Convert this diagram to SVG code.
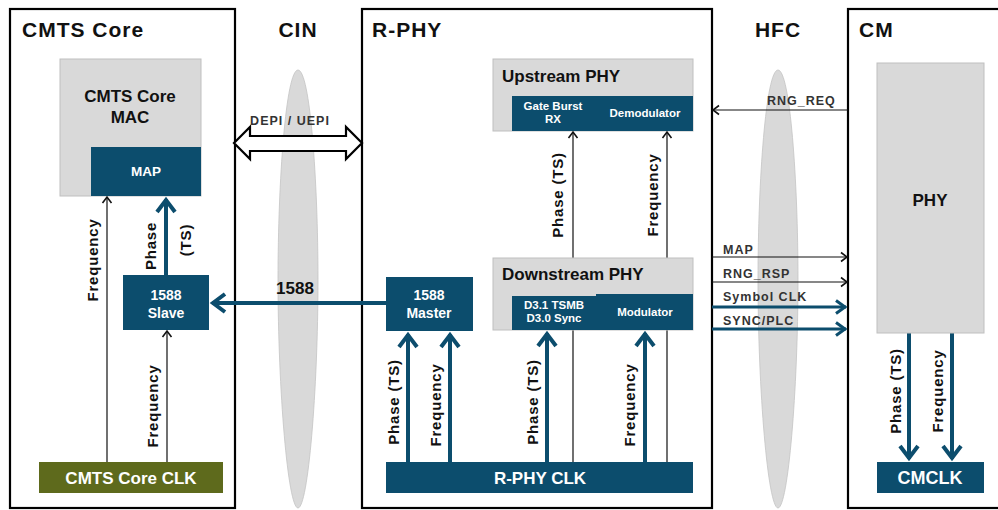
<svg xmlns="http://www.w3.org/2000/svg" width="998" height="510" viewBox="0 0 998 510">
<style>
text{font-family:"Liberation Sans",Arial,sans-serif;}
.frame{fill:#fff;stroke:#000;stroke-width:2.2;}
.hdr{font-size:21px;font-weight:bold;fill:#111;letter-spacing:1px;}
.grey{fill:#d9d9d9;stroke:#bfbfbf;stroke-width:1;}
.teal{fill:#0c4d6d;}
.olive{fill:#5e6a1c;}
.gtitle{font-size:17px;font-weight:bold;fill:#111;}
.wt{fill:#fff;font-weight:bold;text-anchor:middle;}
.vl{font-size:15px;font-weight:bold;fill:#111;text-anchor:middle;dominant-baseline:central;letter-spacing:0.8px;}
.thin{stroke:#111;stroke-width:1.2;fill:none;}
.thick{stroke:#0c4d6d;stroke-width:4;fill:none;}
.mid{stroke:#0c4d6d;stroke-width:3;fill:none;}
.hl{font-size:12.5px;font-weight:bold;fill:#333;letter-spacing:1px;}
.cloud{fill:#d9d9d9;stroke:#c4c4c4;stroke-width:0.8;}
</style>
<defs>
<marker id="ah" markerUnits="userSpaceOnUse" markerWidth="12" markerHeight="12" refX="7" refY="6" orient="auto">
<path d="M1,1.5 L7,6 L1,10.5" fill="none" stroke="#111" stroke-width="1.6"/>
</marker>
<marker id="ahT" markerUnits="userSpaceOnUse" markerWidth="24" markerHeight="24" refX="18" refY="12" orient="auto">
<path d="M5,3 L17,12 L5,21" fill="none" stroke="#0c4d6d" stroke-width="4"/>
</marker>
<marker id="ahM" markerUnits="userSpaceOnUse" markerWidth="20" markerHeight="20" refX="14" refY="10" orient="auto">
<path d="M4,3.5 L13,10 L4,16.5" fill="none" stroke="#0c4d6d" stroke-width="3"/>
</marker>
<path id="spindle" d="M0,0 C12,0 20,110 20,210 C20,320 10,438 0,438 C-10,438 -20,320 -20,210 C-20,110 -12,0 0,0 Z"/>
</defs>

<!-- frames -->
<g id="cmts-core">
<rect class="frame" x="10" y="9" width="225" height="499"/>
<text class="hdr" x="22" y="37">CMTS Core</text>
</g>
<g id="r-phy">
<rect class="frame" x="362" y="9" width="350" height="499"/>
<text class="hdr" x="372" y="37">R-PHY</text>
</g>
<g id="cm">
<rect class="frame" x="848" y="9" width="170" height="499"/>
<text class="hdr" x="859" y="37">CM</text>
</g>

<!-- networks -->
<g id="cin">
<use href="#spindle" class="cloud" x="298" y="70"/>
<text class="hdr" x="298" y="37" text-anchor="middle">CIN</text>
</g>
<g id="hfc">
<use href="#spindle" class="cloud" x="778" y="70"/>
<text class="hdr" x="778" y="37" text-anchor="middle">HFC</text>
</g>

<!-- CMTS Core nodes -->
<g id="cmts-mac">
<rect class="grey" x="60" y="59" width="141" height="137"/>
<text class="gtitle" x="130" y="102" text-anchor="middle">CMTS Core</text>
<text class="gtitle" x="130" y="123" text-anchor="middle">MAC</text>
</g>
<g id="map">
<rect class="teal" x="91" y="147" width="110" height="49"/>
<text class="wt" x="146" y="176" font-size="13.5">MAP</text>
</g>
<g id="slave">
<rect class="teal" x="123" y="275" width="86" height="55"/>
<text class="wt" x="166" y="300" font-size="14">1588</text>
<text class="wt" x="166" y="318" font-size="14">Slave</text>
</g>
<g id="cmts-clk">
<rect class="olive" x="39" y="462" width="184" height="31"/>
<text class="wt" x="131" y="484" font-size="17">CMTS Core CLK</text>
</g>

<!-- R-PHY nodes -->
<g id="upstream-phy">
<rect class="grey" x="493" y="59" width="200" height="72"/>
<text class="gtitle" x="502" y="82">Upstream PHY</text>
<rect class="teal" x="512" y="96" width="181" height="35"/>
<text class="wt" x="553" y="110" font-size="11.5">Gate Burst</text>
<text class="wt" x="553" y="123" font-size="11.5">RX</text>
<text class="wt" x="645" y="117" font-size="11.5">Demodulator</text>
</g>

<g id="connectors">
<!-- CMTS core -->
<line class="thin" x1="107" y1="462" x2="107" y2="197" marker-end="url(#ah)"/>
<line class="thin" x1="167" y1="462" x2="167" y2="331" marker-end="url(#ah)"/>
<line class="thick" x1="166" y1="275" x2="166" y2="199" marker-end="url(#ahT)"/>
<!-- 1588 -->
<line class="thick" x1="387" y1="303" x2="212" y2="303" marker-end="url(#ahT)"/>
<!-- DEPI/UEPI hollow double arrow -->
<path d="M234,143 L250,127 L250,136 L346,136 L346,127 L362,143 L346,159 L346,151 L250,151 L250,159 Z" fill="#fff" stroke="#000" stroke-width="2.2" stroke-linejoin="miter"/>
<!-- R-PHY internal thin -->
<line class="thin" x1="573" y1="462" x2="573" y2="132" marker-end="url(#ah)"/>
<line class="thin" x1="667" y1="462" x2="667" y2="132" marker-end="url(#ah)"/>
<!-- R-PHY thick -->
<line class="thick" x1="408" y1="462" x2="408" y2="334" marker-end="url(#ahT)"/>
<line class="thick" x1="450" y1="462" x2="450" y2="334" marker-end="url(#ahT)"/>
<line class="thick" x1="547" y1="462" x2="547" y2="333" marker-end="url(#ahT)"/>
<line class="thick" x1="645" y1="462" x2="645" y2="333" marker-end="url(#ahT)"/>
<!-- HFC -->
<line class="thin" x1="848" y1="110" x2="713" y2="110" marker-end="url(#ah)"/>
<line class="thin" x1="712" y1="257" x2="847" y2="257" marker-end="url(#ah)"/>
<line class="thin" x1="712" y1="282" x2="847" y2="282" marker-end="url(#ah)"/>
<line class="mid" x1="712" y1="307" x2="846" y2="307" marker-end="url(#ahM)"/>
<line class="mid" x1="712" y1="329" x2="846" y2="329" marker-end="url(#ahM)"/>
<!-- CM -->
<line class="thick" x1="909" y1="333" x2="909" y2="459" marker-end="url(#ahT)"/>
<line class="thick" x1="952" y1="333" x2="952" y2="459" marker-end="url(#ahT)"/>
</g>

<g id="downstream-phy">
<rect class="grey" x="493" y="258" width="200" height="72"/>
<text class="gtitle" x="502" y="280">Downstream PHY</text>
<rect class="teal" x="512" y="296" width="86" height="34"/>
<rect class="teal" x="596" y="294" width="97" height="36"/>
<text class="wt" x="554" y="309" font-size="11.5">D3.1 TSMB</text>
<text class="wt" x="554" y="322" font-size="11.5">D3.0 Sync</text>
<text class="wt" x="645" y="316" font-size="11.5">Modulator</text>
</g>
<g id="master">
<rect class="teal" x="386" y="277" width="87" height="54"/>
<text class="wt" x="429" y="300" font-size="14">1588</text>
<text class="wt" x="429" y="318" font-size="14">Master</text>
</g>
<g id="rphy-clk">
<rect class="teal" x="386" y="462" width="307" height="31"/>
<text class="wt" x="540" y="484" font-size="17">R-PHY CLK</text>
</g>

<!-- CM nodes -->
<g id="cm-phy">
<rect class="grey" x="877" y="63" width="107" height="270"/>
<text class="gtitle" x="930" y="206" text-anchor="middle">PHY</text>
</g>
<g id="cmclk">
<rect class="teal" x="877" y="462" width="107" height="31"/>
<text class="wt" x="930" y="484" font-size="18">CMCLK</text>
</g>

<!-- connector labels -->
<g id="labels">
<text class="hl" x="290" y="125" text-anchor="middle" font-weight="normal" letter-spacing="0.6">DEPI / UEPI</text>
<text class="gtitle" x="295" y="294" text-anchor="middle" font-size="14">1588</text>
<text class="vl" transform="translate(92,260) rotate(-90)">Frequency</text>
<text class="vl" transform="translate(150,246) rotate(-90)">Phase</text>
<text class="vl" transform="translate(185,240) rotate(-90)">(TS)</text>
<text class="vl" transform="translate(152,406) rotate(-90)">Frequency</text>
<text class="vl" transform="translate(557,195) rotate(-90)">Phase (TS)</text>
<text class="vl" transform="translate(652,195) rotate(-90)">Frequency</text>
<text class="vl" transform="translate(393,402) rotate(-90)">Phase (TS)</text>
<text class="vl" transform="translate(435,405) rotate(-90)">Frequency</text>
<text class="vl" transform="translate(532,402) rotate(-90)">Phase (TS)</text>
<text class="vl" transform="translate(629,405) rotate(-90)">Frequency</text>
<text class="vl" transform="translate(895,391) rotate(-90)">Phase (TS)</text>
<text class="vl" transform="translate(937,391) rotate(-90)">Frequency</text>
<text class="hl" x="767" y="105">RNG_REQ</text>
<text class="hl" x="723" y="254">MAP</text>
<text class="hl" x="723" y="278">RNG_RSP</text>
<text class="hl" x="723" y="301">Symbol CLK</text>
<text class="hl" x="723" y="325">SYNC/PLC</text>
</g>
</svg>
